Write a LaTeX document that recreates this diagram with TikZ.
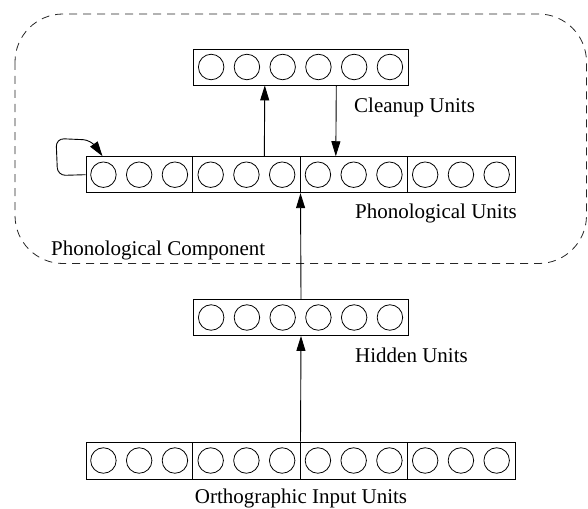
\documentclass[tikz,border=0pt]{standalone}
\usepackage{fontspec}
\setmainfont{Liberation Serif}
\usepackage{tikz}
\usetikzlibrary{arrows.meta,calc,positioning}

\def\cw{35.75}% width of one unit cell

\begin{document}
\begin{tikzpicture}[x=1pt,y=1pt,>={Triangle[length=15pt,width=9pt]},
    layer/.style={draw,line width=0.9pt,inner sep=0pt,minimum height=36pt},
    unit/.style={circle,draw,line width=0.8pt,inner sep=0pt,minimum size=25.5pt},
    lbl/.style={font=\fontsize{21}{25}\selectfont,anchor=base west,inner sep=0pt},
    conn/.style={->,line width=0.9pt}]
    \useasboundingbox (0,0) rectangle (588,-508);

    % phonological component
    \draw[line width=0.8pt,black!85,dash pattern=on 8pt off 6pt,rounded corners=48pt]
      (15,-14) rectangle (586.5,-263.5);

    % the four layers
    \node[layer,minimum width=6*\cw] (cleanup) at (301,-67) {};
    \node[layer,minimum width=12*\cw] (phon) at (300.5,-174.7) {};
    \node[layer,minimum width=6*\cw] (hidden) at (301,-317.5) {};
    \node[layer,minimum width=12*\cw,minimum height=37pt] (ortho) at (300.5,-460.5) {};

    \foreach \i in {0,...,5} {
      \node[unit] (c\i) at ($(cleanup.west)+(\i*\cw+0.5*\cw,0)$) {};
      \node[unit] (h\i) at ($(hidden.west)+(\i*\cw+0.5*\cw,0)$) {};
    }
    \foreach \i in {0,...,11} {
      \node[unit] (p\i) at ($(phon.west)+(\i*\cw+0.5*\cw,0)$) {};
      \node[unit] (o\i) at ($(ortho.west)+(\i*\cw+0.5*\cw,0)$) {};
    }
    % group separators
    \foreach \g in {1,2,3} {
      \draw[line width=0.9pt] ($(phon.south west)+(3*\g*\cw,0)$) -- ($(phon.north west)+(3*\g*\cw,0)$);
      \draw[line width=0.9pt] ($(ortho.south west)+(3*\g*\cw,0)$) -- ($(ortho.north west)+(3*\g*\cw,0)$);
    }

    % connections
    \draw[conn] (ortho.north) -- (hidden.south);
    \draw[conn] (hidden.north) -- (phon.south);
    \draw[conn] ($(phon.north west)+(5*\cw,0)$) -- ($(cleanup.south west)+(2*\cw,0)$);
    \draw[conn] ($(cleanup.south west)+(4*\cw,0)$) -- ($(phon.north west)+(7*\cw,0)$);
    \draw[conn,rounded corners=8pt] (phon.west) -- ++(-28,-0.8) -- ++(-1.5,37)
      -- ++(35,-1.5) -- ($(phon.north west)+(17,0)$);

    % labels
    \node[lbl] (lclean) at (354,-112) {Cleanup Units};
    \node[lbl] (lphon) at (355,-218.3) {Phonological Units};
    \node[lbl] (lcomp) at (51,-255) {Phonological Component};
    \node[lbl] (lhid) at (355,-362.7) {Hidden Units};
    \node[lbl,anchor=base] (lortho) at (301,-503.5) {Orthographic Input Units};
  \end{tikzpicture}
\end{document}
